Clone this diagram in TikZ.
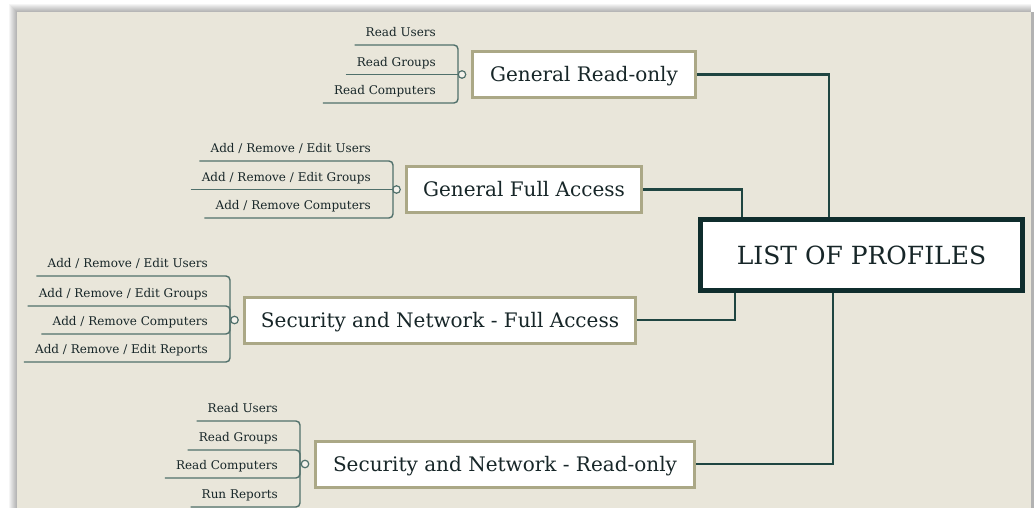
\documentclass[tikz,border=0pt]{standalone}
\usepackage{fontspec}
\setmainfont{DejaVu Serif}
\definecolor{panel}{HTML}{E9E6DA}
\definecolor{boxedge}{HTML}{ABA886}
\definecolor{linkc}{HTML}{1F4541}
\definecolor{leafc}{HTML}{50706B}
\definecolor{inkc}{HTML}{172628}
\definecolor{rootedge}{HTML}{0F2D2D}
\begin{document}
\begin{tikzpicture}[x=1pt,y=-1pt,
  profile/.style={draw=boxedge, line width=3pt, fill=white, minimum height=46pt,
    inner sep=0pt, text height=14.6pt, text depth=0pt, text=inkc,
    font=\fontsize{20}{24}\selectfont},
  root/.style={draw=rootedge, line width=5pt, fill=white, minimum width=322pt,
    minimum height=71pt, text=inkc, font=\fontsize{25}{30}\selectfont},
  link/.style={draw=linkc, line width=2.2pt},
  leaf/.style={anchor=south east, inner sep=0pt, text depth=8pt, text height=10pt,
    text=inkc, font=\fontsize{12}{14}\selectfont,
    execute at begin node={\hspace*{11pt}}, execute at end node={\hspace*{22pt}}},
  leafline/.style={draw=leafc, line width=1.4pt, rounded corners=4pt},
  stub/.style={draw=leafc, line width=1.4pt},
  knob/.style={circle, draw=leafc, line width=1.2pt, fill=white!50!panel,
    minimum size=7.5pt, inner sep=0pt}
]
% page, drop shadow and panel
\fill[white] (0,0) rectangle (1034,508);
\useasboundingbox (0,0) rectangle (1034,508);
\foreach \i in {1,...,8}
  \fill[black, opacity=0.04] (17-\i,12-\i) rectangle (1031,508);
\fill[gray!60] (1031,12) rectangle (1034,508);
\fill[panel] (17,12) rectangle (1031,508);

% profile boxes and the root
\node[profile, minimum width=223pt] (gro) at (584,74.5) {General Read-only};
\node[profile, minimum width=235pt] (gfa) at (524,189.5) {General Full Access};
\node[profile, minimum width=391pt] (snf) at (440,320) {Security and Network - Full Access};
\node[profile, minimum width=379pt] (snr) at (505,464) {Security and Network - Read-only};
\node[root] (root) at (861.5,255) {LIST OF PROFILES};

% links to the root
\draw[link] (gro.east) -| ([xshift=-32.5pt]root.north);
\draw[link] (gfa.east) -| ([xshift=-119.5pt]root.north);
\draw[link] (snf.east) -| ([xshift=-126.5pt]root.south);
\draw[link] (snr.east) -| ([xshift=-28.5pt]root.south);

% knobs
\node[knob] (k1) at ([xshift=-9pt]gro.west) {};
\node[knob] (k2) at ([xshift=-8.5pt]gfa.west) {};
\node[knob] (k3) at ([xshift=-8.5pt]snf.west) {};
\node[knob] (k4) at ([xshift=-9pt]snr.west) {};
\coordinate (j1) at (458,74.5);
\coordinate (j2) at (393,189.5);
\coordinate (j3) at (230,320);
\coordinate (j4) at (300,464);

% General Read-only
\node[leaf] (a1) at (458,45) {Read Users};
\node[leaf] (a2) at (458,74.5) {Read Groups};
\node[leaf] (a3) at (458,103) {Read Computers};
\draw[leafline] (a1.south west) -- (a1.south east) -- (a1.south east |- j1);
\draw[leafline] (a3.south west) -- (a3.south east) -- (a3.south east |- j1);
\draw[stub] (a2.south west) -- (j1) -- (k1.west);

% General Full Access
\node[leaf] (b1) at (393,161) {Add / Remove / Edit Users};
\node[leaf] (b2) at (393,189.5) {Add / Remove / Edit Groups};
\node[leaf] (b3) at (393,218) {Add / Remove Computers};
\draw[leafline] (b1.south west) -- (b1.south east) -- (b1.south east |- j2);
\draw[leafline] (b3.south west) -- (b3.south east) -- (b3.south east |- j2);
\draw[stub] (b2.south west) -- (j2) -- (k2.west);

% Security and Network - Full Access
\node[leaf] (c1) at (230,276) {Add / Remove / Edit Users};
\node[leaf] (c2) at (230,306) {Add / Remove / Edit Groups};
\node[leaf] (c3) at (230,334) {Add / Remove Computers};
\node[leaf] (c4) at (230,362) {Add / Remove / Edit Reports};
\foreach \c in {c1,c2,c3,c4}
  \draw[leafline] (\c.south west) -- (\c.south east) -- (\c.south east |- j3);
\draw[stub] (j3) -- (k3.west);

% Security and Network - Read-only
\node[leaf] (d1) at (300,421) {Read Users};
\node[leaf] (d2) at (300,450) {Read Groups};
\node[leaf] (d3) at (300,478) {Read Computers};
\node[leaf] (d4) at (300,507) {Run Reports};
\foreach \d in {d1,d2,d3,d4}
  \draw[leafline] (\d.south west) -- (\d.south east) -- (\d.south east |- j4);
\draw[stub] (j4) -- (k4.west);
\end{tikzpicture}
\end{document}
